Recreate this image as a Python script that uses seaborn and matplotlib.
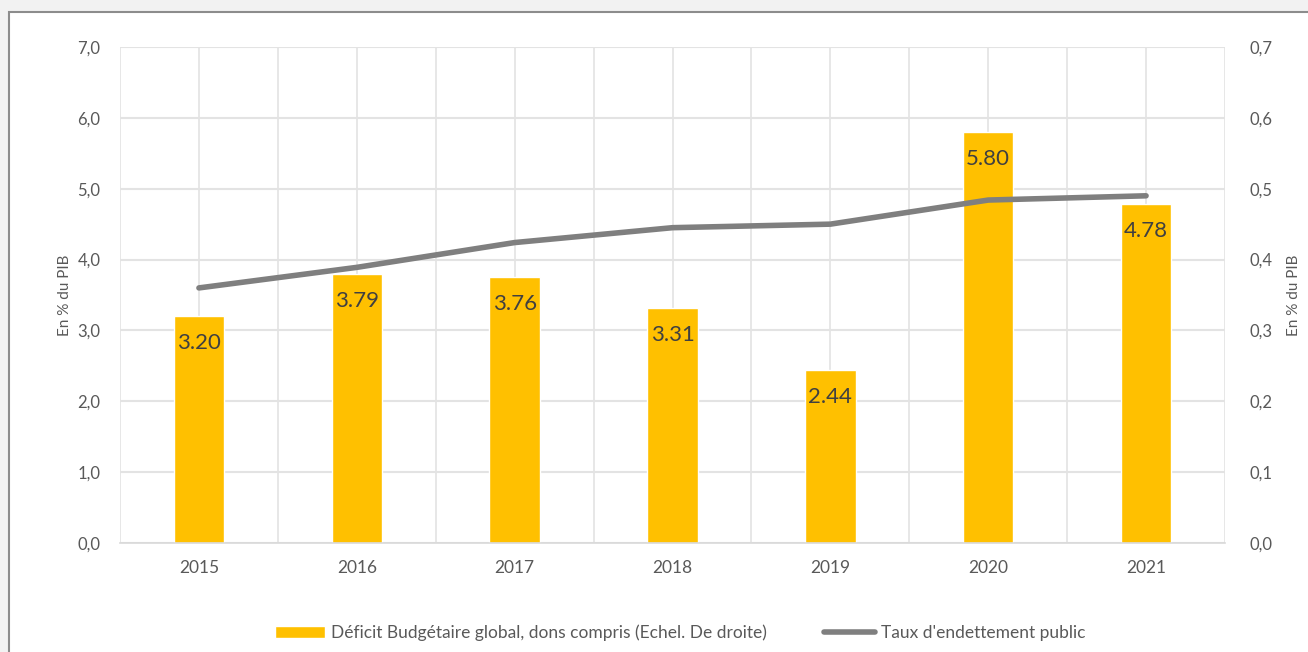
import numpy as np
import pandas as pd
import matplotlib
matplotlib.use('Agg')
import matplotlib.pyplot as plt
import seaborn as sns
from matplotlib.patches import Rectangle
from matplotlib.lines import Line2D
from matplotlib.ticker import FuncFormatter, MultipleLocator

# data
years = ['2015', '2016', '2017', '2018', '2019', '2020', '2021']
deficit = [3.20, 3.79, 3.76, 3.31, 2.44, 5.80, 4.78]
endettement = [0.360, 0.389, 0.424, 0.445, 0.450, 0.484, 0.490]

bar_label = 'Déficit Budgétaire global, dons compris (Echel. De droite)'
line_label = "Taux d'endettement public"

sns.set_style('white')
plt.rcParams['font.family'] = ['Lato', 'DejaVu Sans']

bar_color = '#FFC000'
line_color = '#7F7F7F'
grid_color = '#E3E3E3'
text_color = '#595959'

df = pd.DataFrame({'year': years, 'deficit': deficit, 'dette': endettement})
df['pos'] = np.arange(len(years))

fig = plt.figure(figsize=(13.08, 6.52), dpi=100)
fig.patch.set_facecolor('#F2F2F2')
# outer chart frame
fig.patches.append(Rectangle((9 / 1308, -0.05), 1.05, 1 - 12 / 652 + 0.05, transform=fig.transFigure,
                             facecolor='white', edgecolor='#8C8C8C', linewidth=1.5, zorder=-10))

ax = fig.add_axes([120 / 1308, 1 - 543 / 652, 1105 / 1308, 496 / 652])
ax.set_facecolor('none')
sns.barplot(data=df, x='pos', y='deficit', color=bar_color, width=0.32, native_scale=True,
            saturation=1, ax=ax, zorder=2)
ax.set_xlim(-0.5, len(years) - 0.5)
ax.set_ylim(0, 7)
ax.yaxis.set_major_locator(MultipleLocator(1))
ax.yaxis.set_major_formatter(FuncFormatter(lambda v, p: f'{v:.1f}'.replace('.', ',')))
ax.set_xticks(df['pos'])
ax.set_xticklabels(years)
ax.set_xticks(np.arange(-0.5, len(years), 1.0), minor=True)
ax.set_xlabel('')
ax.set_ylabel('En % du PIB', fontsize=11, color=text_color, labelpad=4)

# grid every half category
for xv in np.arange(-0.5, len(years), 0.5):
    ax.axvline(xv, color=grid_color, linewidth=1.2, zorder=0)
ax.grid(axis='y', color=grid_color, linewidth=1.5, zorder=0)
ax.set_axisbelow(True)

for s in ['top', 'right', 'left']:
    ax.spines[s].set_visible(False)
ax.spines['bottom'].set_color('#D9D9D9')
ax.spines['bottom'].set_linewidth(1.2)
ax.tick_params(axis='x', which='major', length=0, pad=12, labelsize=12.5, labelcolor=text_color)
ax.tick_params(axis='x', which='minor', length=5, color='#D9D9D9', width=1.2)
ax.tick_params(axis='y', length=0, pad=14, labelsize=12, labelcolor=text_color)

# value labels inside bars
for p, v in zip(df['pos'], df['deficit']):
    ax.text(p, v - 0.38, f'{v:.2f}', ha='center', va='center', fontsize=16, color='#404040', zorder=4)

ax2 = ax.twinx()
sns.lineplot(data=df, x='pos', y='dette', color=line_color, linewidth=4, ax=ax2, zorder=3,
             solid_capstyle='round')
ax2.set_ylim(0, 0.7)
ax2.set_xlim(-0.5, len(years) - 0.5)
ax2.yaxis.set_major_locator(MultipleLocator(0.1))
ax2.yaxis.set_major_formatter(FuncFormatter(lambda v, p: f'{v:.1f}'.replace('.', ',')))
ax2.tick_params(axis='y', length=0, pad=18, labelsize=12, labelcolor=text_color)
ax2.set_ylabel('En % du PIB', fontsize=11, color=text_color, labelpad=10, rotation=90)
for s in ax2.spines.values():
    s.set_visible(False)
ax2.set_xlabel('')

handles = [Rectangle((0, 0), 1, 1, facecolor=bar_color),
           Line2D([0], [0], color=line_color, linewidth=4, solid_capstyle='round')]
fig.legend(handles, [bar_label, line_label], loc='center', bbox_to_anchor=(0.52, 1 - 633 / 652),
           ncol=2, frameon=False, fontsize=12.5, labelcolor=text_color, handlelength=2.9,
           handletextpad=0.35, columnspacing=3.3)

fig.savefig('out.png', dpi=100)
